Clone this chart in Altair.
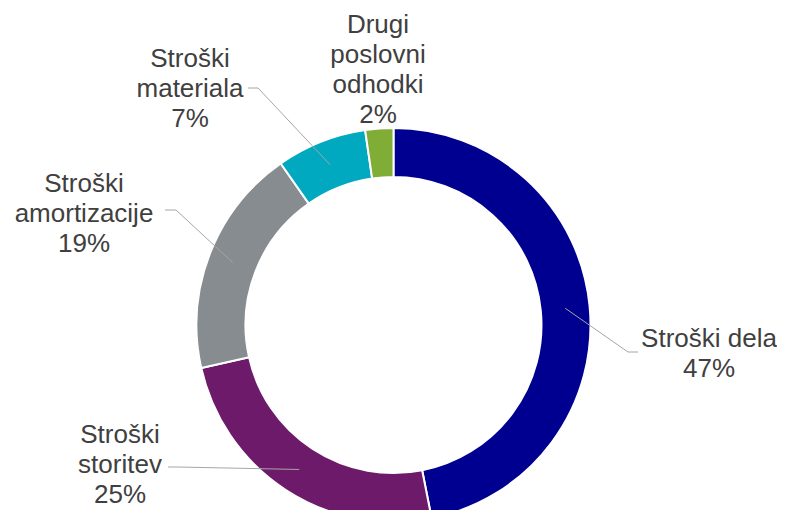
import altair as alt
import pandas as pd
import numpy as np

# ---- data ----
categories = ["Stroški dela", "Stroški storitev", "Stroški amortizacije",
              "Stroški materiala", "Drugi poslovni odhodki"]
values = [46.9, 24.6, 18.8, 7.4, 2.3]
label_words = [["Stroški dela"], ["Stroški", "storitev"], ["Stroški", "amortizacije"],
               ["Stroški", "materiala"], ["Drugi", "poslovni", "odhodki"]]
colors = ["#000090", "#6D1A6A", "#878C90", "#00A9BF", "#80AD35"]

# ---- annotation layout (data units = px, donut centre at 0,0) ----
label_anchor_x = [315.5, -273.5, -309.5, -203.5, -15.5]
label_anchor_y = [-22, -118, 133, 258, 292]
leader_end_x = [244.5, -225.5, -228.5, -145.5, None]
leader_end_y = [-27, -142, 115, 237, None]
elbow_dx = [-10, 10, 11, 10, 0]

R_OUT, R_IN = 197, 148
R_MID = (R_OUT + R_IN) / 2

df = pd.DataFrame({"cat": categories, "val": values, "idx": range(len(values))})

texts = [w + [f"{round(v)}%"] for w, v in zip(label_words, values)]
lab = pd.DataFrame({"cat": categories, "x": label_anchor_x, "y": label_anchor_y, "text": texts})

cum = np.cumsum(values)
mids = (cum - np.array(values) / 2) / 100 * 2 * np.pi
rows = []
for i, c in enumerate(categories):
    if leader_end_x[i] is None:
        continue
    sx, sy = R_MID * np.sin(mids[i]), R_MID * np.cos(mids[i])
    ex, ey = leader_end_x[i], leader_end_y[i]
    rows += [
        {"cat": c, "k": 0, "x": float(sx), "y": float(sy)},
        {"cat": c, "k": 1, "x": ex + elbow_dx[i], "y": ey},
        {"cat": c, "k": 2, "x": ex, "y": ey},
    ]
lead = pd.DataFrame(rows)

W, H = 769, 502
xs = alt.Scale(domain=[-385.5, 383.5], nice=False, zero=False)
ys = alt.Scale(domain=[-185, 317], nice=False, zero=False)

arcs = alt.Chart(df).mark_arc(outerRadius=R_OUT, innerRadius=R_IN, stroke="white", strokeWidth=2).encode(
    theta=alt.Theta("val:Q", stack=True),
    order=alt.Order("idx:Q", sort="ascending"),
    color=alt.Color("cat:N", scale=alt.Scale(domain=categories, range=colors), legend=None),
    x=alt.datum(0, scale=xs, axis=None),
    y=alt.datum(0, scale=ys, axis=None),
)

lines = alt.Chart(lead).mark_line(color="#A6A6A6", strokeWidth=1).encode(
    x=alt.X("x:Q", scale=xs, axis=None),
    y=alt.Y("y:Q", scale=ys, axis=None),
    detail="cat:N",
    order="k:Q",
)

labels = alt.Chart(lab).mark_text(
    font="Liberation Sans", fontSize=26, color="#404040", lineHeight=30,
    align="center", baseline="alphabetic"
).encode(
    x=alt.X("x:Q", scale=xs, axis=None),
    y=alt.Y("y:Q", scale=ys, axis=None),
    text="text",
)

chart = alt.layer(arcs, lines, labels).properties(
    width=W, height=H, padding=0, autosize=alt.AutoSizeParams(type="none")
).configure_view(stroke=None)

chart.save("out.html", embed_options={"renderer": "svg", "actions": False})
